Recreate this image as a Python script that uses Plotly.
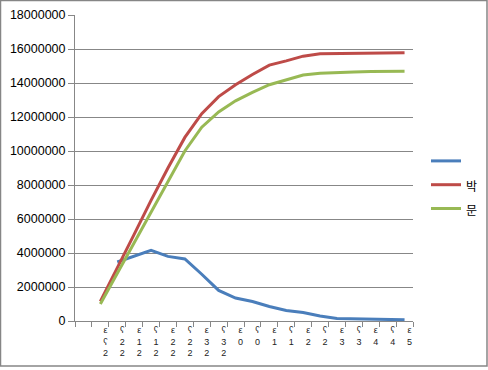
import plotly.graph_objects as go

categories = list(range(20))
tick_labels = ["",
               "ε<br>ʕ<br>2", "ʕ<br>2<br>2", "ε<br>1<br>2", "ʕ<br>1<br>2",
               "ε<br>2<br>2", "ʕ<br>2<br>2", "ε<br>3<br>2", "ʕ<br>3<br>2",
               "ε<br>0", "ʕ<br>0", "ε<br>1", "ʕ<br>1", "ε<br>2", "ʕ<br>2",
               "ε<br>3", "ʕ<br>3", "ε<br>4", "ʕ<br>4", "ε<br>5"]

blue_name = " "
red_name = "박"
green_name = "문"

blue = [None, None, 3470000, 3800000, 4150000, 3800000, 3650000, 2750000, 1800000,
        1350000, 1150000, 850000, 620000, 500000, 300000, 150000, 120000, 100000,
        80000, 70000]
red = [None, 1150000, 3100000, 5100000, 7100000, 9000000, 10800000, 12200000,
       13200000, 13900000, 14500000, 15050000, 15300000, 15580000, 15720000,
       15740000, 15760000, 15770000, 15770000, 15780000]
green = [None, 1000000, 2800000, 4600000, 6400000, 8200000, 10000000, 11400000,
         12300000, 12950000, 13450000, 13900000, 14200000, 14470000, 14570000,
         14620000, 14650000, 14670000, 14680000, 14690000]

y_ticks = list(range(0, 18000001, 2000000))

GRID = "#878787"
FONT = "Liberation Sans, Noto Sans CJK KR, sans-serif"

def leg(name):
    return '<span style="font-size:12px">%s</span>' % name

fig = go.Figure()
fig.add_trace(go.Scatter(x=categories, y=blue, name=leg(blue_name), mode="lines",
                         line=dict(color="#4A7EBB", width=3)))
fig.add_trace(go.Scatter(x=categories, y=red, name=leg(red_name), mode="lines",
                         line=dict(color="#BE4B48", width=3)))
fig.add_trace(go.Scatter(x=categories, y=green, name=leg(green_name), mode="lines",
                         line=dict(color="#98B954", width=3)))

ML, MR, MT, MB = 75, 75, 15, 49
W, H = 488, 370
pw, ph = W - ML - MR, H - MT - MB

def px_x(p):
    return (p - ML) / pw

def px_y(p):
    return (H - MB - p) / ph

fig.update_layout(
    width=W, height=H,
    margin=dict(l=ML, r=MR, t=MT, b=MB, autoexpand=False),
    paper_bgcolor="white", plot_bgcolor="white",
    font=dict(family=FONT, size=12, color="#000000"),
    showlegend=True,
    legend=dict(xref="container", yref="container",
                x=426 / W, xanchor="left", y=(H - 185) / H, yanchor="middle",
                font=dict(size=16), bgcolor="rgba(0,0,0,0)", tracegroupgap=0),
    xaxis=dict(range=[-0.5, 19.5], showgrid=False, zeroline=False,
               automargin=False,
               showline=True, linecolor=GRID, linewidth=1,
               tickmode="array", tickvals=[c + 0.3 for c in categories],
               ticktext=tick_labels, ticks="", tickangle=0,
               ticklabelstandoff=0,
               tickfont=dict(size=9, color="#222222"),
               minor=dict(tickmode="array",
                          tickvals=[c - 0.5 for c in categories] + [19.5],
                          ticks="outside", ticklen=5, tickcolor=GRID,
                          showgrid=False)),
    yaxis=dict(range=[0, 18000000], tickmode="array", tickvals=y_ticks,
               automargin=False,
               tickformat="d", showgrid=True, gridcolor=GRID, gridwidth=1,
               zeroline=False, showline=True, linecolor=GRID, linewidth=1,
               ticks="outside", ticklen=6, tickcolor=GRID,
               tickfont=dict(size=12.5)),
    shapes=[dict(type="rect", xref="paper", yref="paper",
                 x0=px_x(0.5), x1=px_x(487), y0=px_y(366), y1=px_y(0.5),
                 line=dict(color="#868686", width=1.5), layer="below")],
)

fig.write_html("out.html",
               config={"displayModeBar": False},
               post_script="document.body.style.margin='0';"
                           "document.body.style.overflow='hidden';")
